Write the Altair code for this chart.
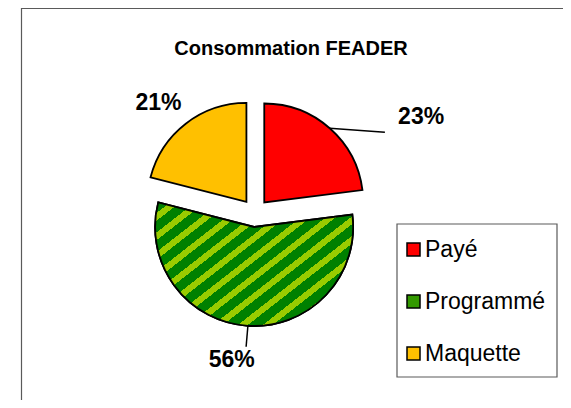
import altair as alt
import pandas as pd

# ---- data ----
TITLE = "Consommation FEADER"
categories = ["Payé", "Programmé", "Maquette"]
shares = [23, 56, 21]

# ---- styles / layout ----
colors = ["#FF0000", "#339900", "#FFC000"]
STRIPE_DARK = "#008000"
STRIPE_LIGHT = "#99CC00"
FONT = "Liberation Sans"
FRAME = "#5a5a5a"

W, H = 555, 392
CX, CY = 247, 205
R = 99
EXPLODE = 14

# label placement: (radius from pie centre, angle shift from slice mid-angle in degrees)
LABEL_PLACE = {"Payé": (192, 18.5), "Programmé": (149, 5.4), "Maquette": (146, -3.6)}
LEADER_END = {"Payé": (153, 16.7), "Programmé": (134, 0.2)}

df = pd.DataFrame({"cat": categories, "value": shares, "idx": list(range(len(categories)))})


def ternary(mapping, pos, default):
    expr = str(default)
    for k, v in mapping.items():
        expr = f"(datum.cat === '{k}' ? {v[pos]} : {expr})"
    return expr


base = (
    alt.Chart(df)
    .transform_joinaggregate(total="sum(value)")
    .transform_window(cum="sum(value)", sort=[alt.SortField("idx")], frame=[None, 0])
    .transform_calculate(t0="(datum.cum - datum.value) / datum.total * 2 * PI")
    .transform_calculate(t1="datum.cum / datum.total * 2 * PI")
    .transform_calculate(mid="(datum.t0 + datum.t1) / 2")
    .transform_calculate(pct="round(datum.value / datum.total * 100) + '%'")
    .transform_calculate(cx=f"{CX} + {EXPLODE} * sin(datum.mid)")
    .transform_calculate(cy=f"{CY} - {EXPLODE} * cos(datum.mid)")
)

enc_xy = dict(
    x=alt.X("cx:Q", scale=None, axis=None),
    y=alt.Y("cy:Q", scale=None, axis=None),
    theta=alt.Theta("t0:Q", scale=None, stack=False),
    theta2=alt.Theta2("t1:Q"),
)

pie = base.mark_arc(radius=R, stroke="black", strokeWidth=1.8, strokeJoin="miter").encode(
    color=alt.Color(
        "cat:N",
        scale=alt.Scale(domain=categories, range=colors),
        sort=categories,
        legend=alt.Legend(
            orient="none",
            legendX=386,
            legendY=222,
            title=None,
            symbolType="square",
            symbolSize=169,
            symbolStrokeColor="black",
            symbolStrokeWidth=1.5,
            labelFontSize=23,
            labelFont=FONT,
            labelColor="black",
            padding=8,
            rowPadding=28,
            labelOffset=0,
        ),
    ),
    **enc_xy,
)

# striped (hatched) fill for the "Programmé" slice
N = 13
stops = []
for k in range(N):
    a, b, c = k / N, (k + 0.6) / N, (k + 1) / N
    stops += [
        alt.GradientStop(offset=a, color=STRIPE_DARK),
        alt.GradientStop(offset=b, color=STRIPE_DARK),
        alt.GradientStop(offset=b, color=STRIPE_LIGHT),
        alt.GradientStop(offset=c, color=STRIPE_LIGHT),
    ]
stripes = alt.LinearGradient(gradient="linear", stops=stops, x1=0, y1=0, x2=1, y2=0.8)

green = (
    base.transform_filter(alt.datum.cat == "Programmé")
    .mark_arc(radius=R, fill=stripes, stroke="black", strokeWidth=1.8, strokeJoin="miter")
    .encode(**enc_xy)
)

leaders = (
    base.transform_filter(alt.FieldOneOfPredicate(field="cat", oneOf=list(LEADER_END)))
    .transform_calculate(sx=f"datum.cx + {R} * sin(datum.mid)")
    .transform_calculate(sy=f"datum.cy - {R} * cos(datum.mid)")
    .transform_calculate(ea=f"datum.mid + {ternary(LEADER_END, 1, 0)} * PI / 180")
    .transform_calculate(er=ternary(LEADER_END, 0, 120))
    .transform_calculate(ex=f"{CX} + datum.er * sin(datum.ea)")
    .transform_calculate(ey=f"{CY} - datum.er * cos(datum.ea)")
    .mark_rule(color="black", strokeWidth=1.5)
    .encode(
        x=alt.X("sx:Q", scale=None, axis=None),
        y=alt.Y("sy:Q", scale=None, axis=None),
        x2="ex:Q",
        y2="ey:Q",
    )
)

labels = (
    base.transform_calculate(la=f"datum.mid + {ternary(LABEL_PLACE, 1, 0)} * PI / 180")
    .transform_calculate(lr=ternary(LABEL_PLACE, 0, 150))
    .transform_calculate(lx=f"{CX} + datum.lr * sin(datum.la)")
    .transform_calculate(ly=f"{CY} - datum.lr * cos(datum.la)")
    .mark_text(font=FONT, fontSize=23, fontWeight="bold", color="black", align="center", baseline="middle")
    .encode(
        x=alt.X("lx:Q", scale=None, axis=None),
        y=alt.Y("ly:Q", scale=None, axis=None),
        text="pct:N",
    )
)

one = pd.DataFrame({"t": [TITLE]})
title = alt.Chart(one).mark_text(
    font=FONT, fontSize=20, fontWeight="bold", color="black", align="center", baseline="middle"
).encode(x=alt.value(283), y=alt.value(41), text="t:N")

frame_left = alt.Chart(one).mark_rule(color=FRAME, strokeWidth=1.2).encode(
    x=alt.value(13.5), y=alt.value(0), y2=alt.value(H)
)
frame_top = alt.Chart(one).mark_rule(color=FRAME, strokeWidth=1.2).encode(
    x=alt.value(13), x2=alt.value(W), y=alt.value(0.5)
)
legend_box = alt.Chart(one).mark_rect(fillOpacity=0, stroke=FRAME, strokeWidth=1.2).encode(
    x=alt.value(389), x2=alt.value(549), y=alt.value(216), y2=alt.value(369)
)

chart = (
    alt.layer(frame_left, frame_top, legend_box, pie, green, leaders, labels, title)
    .properties(width=W, height=H, padding=0, autosize=alt.AutoSizeParams(type="none"))
    .configure_view(stroke=None)
)

chart.save("out.html", embed_options={"renderer": "svg", "actions": False})
